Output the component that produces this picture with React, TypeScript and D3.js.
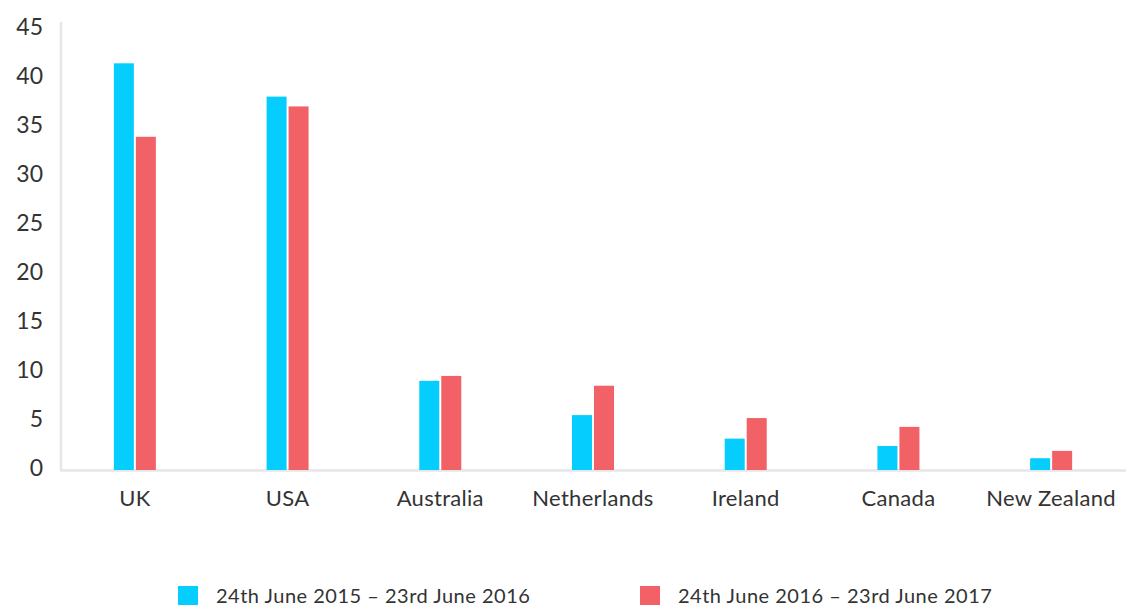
import React from "react";
import * as d3 from "d3";

const categories = ["UK", "USA", "Australia", "Netherlands", "Ireland", "Canada", "New Zealand"];
const series2015 = [41.5, 38.1, 9.1, 5.6, 3.2, 2.45, 1.2];
const series2016 = [34.0, 37.1, 9.6, 8.6, 5.3, 4.4, 1.95];
const seriesNames = ["24th June 2015 – 23rd June 2016", "24th June 2016 – 23rd June 2017"];
const yTicks = [0, 5, 10, 15, 20, 25, 30, 35, 40, 45];

const W = 1126;
const H = 608;
const COLORS = ["#05CDFE", "#F26166"];
const FONT = "Lato, 'Open Sans', sans-serif";
const TEXT = "#333333";

export default function App() {
  const x = d3.scaleBand<string>().domain(categories).range([58.5, 1127.5]).padding(0);
  const y = d3.scaleLinear().domain([0, 45]).range([470, 29]);
  const barW = 20;
  const gap = 2;
  const all = [series2015, series2016];

  return (
    <svg width={W} height={H} style={{ position: "absolute", left: 0, top: 0, background: "#fff" }}>
      {/* axes */}
      <line x1={61} x2={61} y1={22} y2={471} stroke="#e6e6e9" strokeWidth={2.5} />
      <line x1={60} x2={W} y1={470.5} y2={470.5} stroke="#e6e6e9" strokeWidth={2.5} />
      {yTicks.map((t) => (
        <text key={t} x={43} y={y(t) - 3} textAnchor="end" dominantBaseline="central"
          fontFamily={FONT} fontSize={23} fill={TEXT}>{t}</text>
      ))}
      {categories.map((c, i) => {
        const cx = (x(c) as number) + x.bandwidth() / 2;
        return (
          <g key={c}>
            {all.map((s, k) => {
              const bx = k === 0 ? cx - barW - gap / 2 : cx + gap / 2;
              return (
                <rect key={k} x={bx} y={y(s[i])} width={barW} height={y(0) - y(s[i])} fill={COLORS[k]} />
              );
            })}
            <text x={cx} y={497} textAnchor="middle" dominantBaseline="central"
              fontFamily={FONT} fontSize={22} letterSpacing={0.3} fill={TEXT}>{c}</text>
          </g>
        );
      })}
      {/* legend */}
      {seriesNames.map((n, k) => {
        const lx = k === 0 ? 178 : 640;
        return (
          <g key={n}>
            <rect x={lx} y={586} width={20} height={19} fill={COLORS[k]} />
            <text x={lx + 38} y={595} dominantBaseline="central" fontFamily={FONT} fontSize={20}
              letterSpacing={0.5} fill={TEXT}>{n}</text>
          </g>
        );
      })}
    </svg>
  );
}
